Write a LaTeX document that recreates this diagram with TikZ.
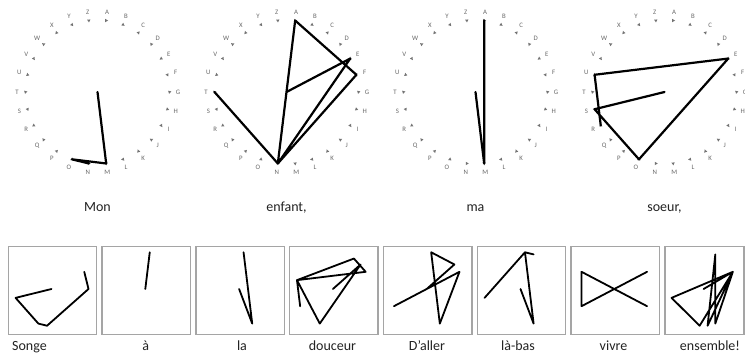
\documentclass[tikz,border=0pt]{standalone}
\usepackage{fontspec}
\setmainfont{Carlito}
\usetikzlibrary{shapes.geometric}
\definecolor{lettergray}{RGB}{105,105,105}
\definecolor{markgray}{RGB}{115,115,115}
\definecolor{boxgray}{RGB}{165,165,165}
\definecolor{labelcol}{RGB}{35,35,35}
\tikzset{
  wletter/.style={font=\fontsize{6.8}{7}\selectfont, text=lettergray, inner sep=0pt},
  wmark/.style={regular polygon, regular polygon sides=3, fill=markgray, draw=none, minimum size=3.8pt, inner sep=0pt},
  wordpath/.style={draw=black, line width=2.2pt, line join=round, line cap=round},
  boxpath/.style={draw=black, line width=1.8pt, line join=round, line cap=round},
  wbox/.style={draw=boxgray, line width=1.4pt, minimum height=87.6pt, inner sep=0pt},
  wlabel/.style={font=\fontsize{14}{16}\selectfont, text=labelcol, anchor=base, inner sep=0pt},
}
\newcommand\mkwheel[4]{%
  \coordinate (#1-c) at (#2,#3);
  \foreach \L [count=\i from 0] in {A,B,C,D,E,F,G,H,I,J,K,L,M,N,O,P,Q,R,S,T,U,V,W,X,Y,Z}{%
    \pgfmathsetmacro\ang{(\i+0.5)*360/26}%
    \pgfmathsetmacro\rot{mod(\i*83+30,360)}%
    \coordinate (#1-\L) at ({#2+72*sin(\ang)},{#3-72*cos(\ang)});
    \node[wmark, rotate=\rot] (#1-m\L) at (#1-\L) {};
    \node[wletter] (#1-l\L) at ({#2+80.5*sin(\ang)},{#3-80.5*cos(\ang)}) {\L};
  }%
  \node[wlabel] (#1-t) at (#2,211.5) {#4};
}
% #1 name, #2 box centre x, #3 box centre y, #4 label, #5 label x, #6 box width
\newcommand\mkbox[6]{%
  \node[wbox, minimum width=#6pt] (#1) at (#2,#3) {};
  \node[wlabel] (#1-t) at (#5,350) {#4};
  \pgfmathsetmacro\rx{37*#6/88.5}%
  \coordinate (#1-c) at ({#2-1},{#3-1.5});
  \foreach \L [count=\i from 0] in {A,B,C,D,E,F,G,H,I,J,K,L,M,N,O,P,Q,R,S,T,U,V,W,X,Y,Z}{%
    \pgfmathsetmacro\ang{(\i+0.5)*360/26}%
    \coordinate (#1-\L) at ({#2-1+\rx*sin(\ang)},{#3-1.5-37*cos(\ang)});
  }%
}
\begin{document}
\begin{tikzpicture}[x=1pt,y=-1pt]
  \clip (0,0) rectangle (745,356);
  \fill[white] (0,0) rectangle (745,356);
  % wheels
  \mkwheel{w1}{97.5}{92}{Mon}
  \mkwheel{w2}{286.5}{92}{enfant,}
  \mkwheel{w3}{475.5}{92}{ma}
  \mkwheel{w4}{664.5}{92}{soeur,}
  \draw[wordpath] (w1-c) -- (w1-M) -- (w1-O) -- (w1-N);
  \draw[wordpath] (w2-c) -- (w2-E) -- (w2-N) -- (w2-F) -- (w2-A) -- (w2-N) -- (w2-T);
  \draw[wordpath] (w3-c) -- (w3-M) -- (w3-A);
  \draw[wordpath] (w4-c) -- (w4-S) -- (w4-O) -- (w4-E) -- (w4-U) -- (w4-R);
  % boxes
  \mkbox{b1}{52.5}{290.5}{Songe}{29.5}{88.5}
  \mkbox{b2}{146.3}{290.5}{à}{145.7}{88.5}
  \mkbox{b3}{240.1}{290.5}{la}{242}{88.5}
  \mkbox{b4}{333.9}{290.5}{douceur}{332.5}{88.5}
  \mkbox{b5}{427.7}{290.5}{D’aller}{427}{88.5}
  \mkbox{b6}{521.5}{290.5}{là-bas}{518}{88.5}
  \mkbox{b7}{615.3}{290.5}{vivre}{613.5}{88.5}
  \mkbox{b8}{704.6}{290.5}{ensemble!}{710}{79}
  \draw[boxpath] (b1-c) -- (b1-S) -- (b1-O) -- (b1-N) -- (b1-G) -- (b1-E);
  \draw[boxpath] (b2-c) -- (b2-A);
  \draw[boxpath] (b3-c) -- (b3-L) -- (b3-A);
  \draw[boxpath] (b4-c) -- (b4-D) -- (b4-O) -- (b4-U) -- (b4-C) -- (b4-E) -- (b4-U) -- (b4-R);
  \draw[boxpath] (b5-c) -- (b5-D) -- (b5-A) -- (b5-L) -- (b5-L) -- (b5-E) -- (b5-R);
  \draw[boxpath] (b6-c) -- (b6-L) -- (b6-A) -- (b6-B) -- (b6-A) -- (b6-S);
  \draw[boxpath] (b7-c) -- (b7-V) -- (b7-I) -- (b7-V) -- (b7-R) -- (b7-E);
  \draw[boxpath] (b8-c) -- (b8-E) -- (b8-N) -- (b8-S) -- (b8-E) -- (b8-M) -- (b8-B) -- (b8-L) -- (b8-E);
\end{tikzpicture}
\end{document}
